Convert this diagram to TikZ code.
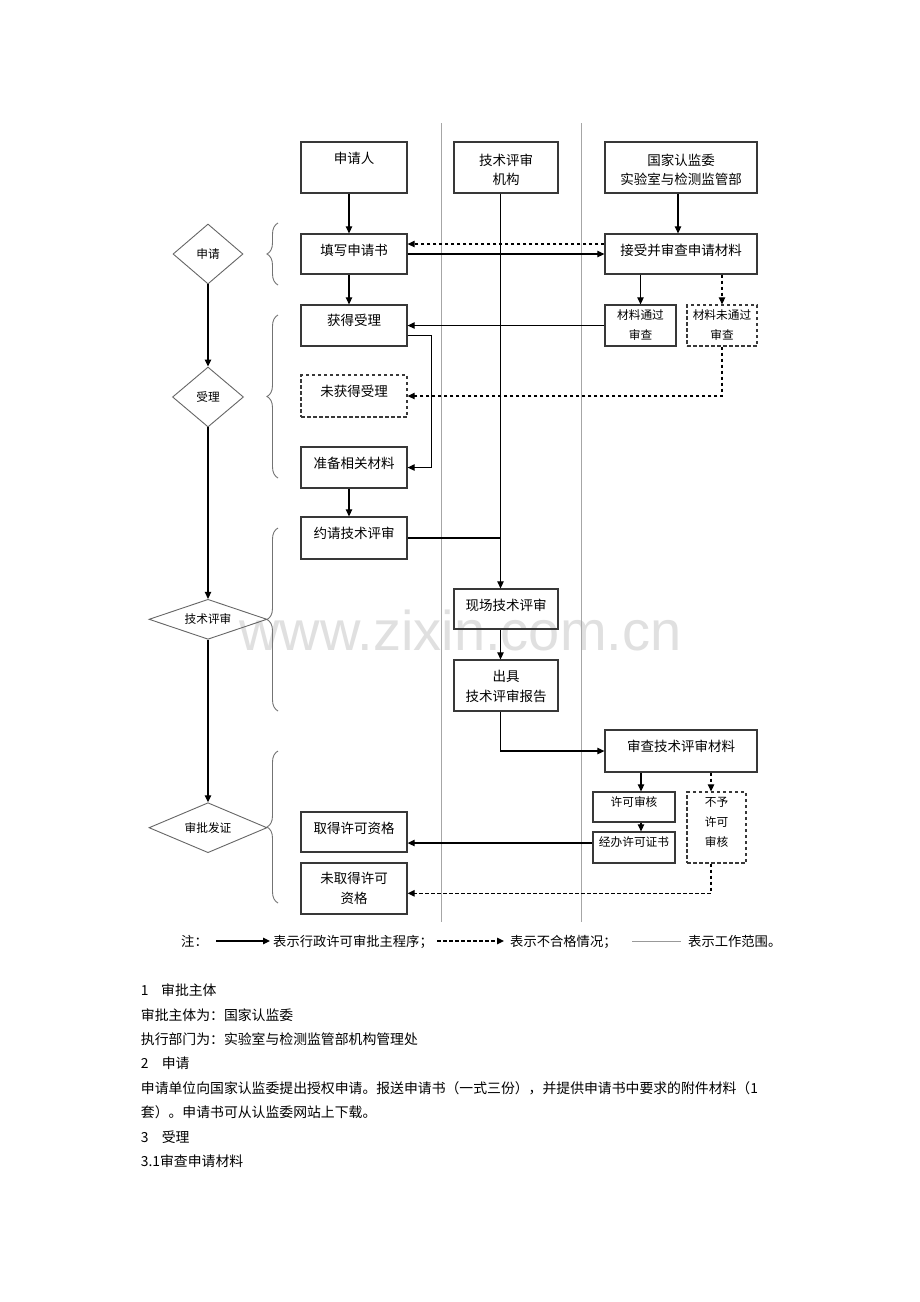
\documentclass[tikz,border=0pt]{standalone}
\usepackage{fontspec}
\setmainfont{Noto Sans CJK SC}
\newfontfamily\wmfont{Liberation Sans}
\usetikzlibrary{arrows.meta,decorations.pathreplacing,shapes.geometric,calc}
\begin{document}
\begin{tikzpicture}[x=1pt,y=-1pt,
  box/.style={draw=black!78, line width=1.3pt, rectangle, inner sep=0pt},
  dbox/.style={box, dash pattern=on 3.5pt off 2.5pt},
  arr/.style={draw=black, line width=1.2pt, -{Triangle[length=7pt,width=6.5pt]}},
  darr/.style={arr, dash pattern=on 3.5pt off 2.5pt},
  plain/.style={draw=black, line width=1.2pt},
  lane/.style={draw=black!35, line width=1.4pt},
  dia/.style={draw=black!60, line width=0.9pt, diamond, inner sep=0pt, font=\fontsize{11.7}{14}\selectfont},
  brc/.style={draw=black!55, line width=0.9pt, decorate, decoration={brace, amplitude=11pt}},
  bl/.style={font=\fontsize{13.5}{16}\selectfont, anchor=base, inner sep=0pt},
  sl/.style={font=\fontsize{11.7}{14}\selectfont, anchor=base, inner sep=0pt},
  tx/.style={font=\fontsize{13.85}{16}\selectfont, anchor=base west, inner sep=0pt},
  lg/.style={font=\fontsize{13.3}{16}\selectfont, anchor=base west, inner sep=0pt}
]
\useasboundingbox (0,0) rectangle (920,1302);
\fill[white] (0,0) rectangle (920,1302);

% watermark
\node[font=\wmfont\fontsize{56}{56}\selectfont, text=black!12, anchor=base, inner sep=0pt] (wm) at (460.5,650) {www.zixin.com.cn};

% lanes
\coordinate (l1t) at (441.7,123); \coordinate (l1b) at (441.7,922);
\coordinate (l2t) at (581.7,123); \coordinate (l2b) at (581.7,922);
\draw[lane] (l1t) -- (l1b);
\draw[lane] (l2t) -- (l2b);

% boxes
\node[box, minimum width=106pt, minimum height=51pt] (A) at (354,167.5) {};
\node[box, minimum width=104pt, minimum height=51pt] (B) at (506,167.5) {};
\node[box, minimum width=152pt, minimum height=51pt] (C) at (681,167.5) {};
\node[box, minimum width=106pt, minimum height=40pt] (D) at (354,254) {};
\node[box, minimum width=152pt, minimum height=40pt] (E) at (681,254) {};
\node[box, minimum width=106pt, minimum height=41pt] (F) at (354,325.5) {};
\node[box, minimum width=71pt, minimum height=41pt] (G) at (640.5,325.5) {};
\node[dbox, minimum width=70pt, minimum height=41pt] (H) at (722,325.5) {};
\node[dbox, minimum width=106pt, minimum height=42pt] (I) at (354,396) {};
\node[box, minimum width=106pt, minimum height=41pt] (J) at (354,467.5) {};
\node[box, minimum width=106pt, minimum height=42pt] (K) at (354,538) {};
\node[box, minimum width=104pt, minimum height=40pt] (L) at (506,609) {};
\node[box, minimum width=104pt, minimum height=51pt] (M) at (506,685.5) {};
\node[box, minimum width=152pt, minimum height=42pt] (N) at (681,751) {};
\node[box, minimum width=82pt, minimum height=30pt] (O) at (634,807) {};
\node[box, minimum width=82pt, minimum height=31pt] (P) at (634,847.5) {};
\node[dbox, minimum width=59pt, minimum height=71pt] (Q) at (716.5,827.5) {};
\node[box, minimum width=106pt, minimum height=40pt] (R) at (354,832) {};
\node[box, minimum width=106pt, minimum height=51pt] (S) at (354,888.5) {};

% box labels
\node[bl] (tA) at (354,163.1) {申请人};
\node[bl] (tB1) at (506,165.1) {技术评审};
\node[bl] (tB2) at (506,184.1) {机构};
\node[bl] (tC1) at (681,165.1) {国家认监委};
\node[bl] (tC2) at (681,184.1) {实验室与检测监管部};
\node[bl] (tD) at (354,255.1) {填写申请书};
\node[bl] (tE) at (681,255.1) {接受并审查申请材料};
\node[bl] (tF) at (354,325.1) {获得受理};
\node[sl] (tG1) at (640.5,319.4) {材料通过};
\node[sl] (tG2) at (640.5,339.4) {审查};
\node[sl] (tH1) at (722,319.4) {材料未通过};
\node[sl] (tH2) at (722,339.4) {审查};
\node[bl] (tI) at (354,396.1) {未获得受理};
\node[bl] (tJ) at (354,468.1) {准备相关材料};
\node[bl] (tK) at (354,538.1) {约请技术评审};
\node[bl] (tL) at (506,610.1) {现场技术评审};
\node[bl] (tM1) at (506,681.1) {出具};
\node[bl] (tM2) at (506,701.1) {技术评审报告};
\node[bl] (tN) at (681,751.1) {审查技术评审材料};
\node[sl] (tO) at (634,806.4) {许可审核};
\node[sl] (tP) at (634,846.4) {经办许可证书};
\node[sl] (tQ1) at (716.5,806.4) {不予};
\node[sl] (tQ2) at (716.5,826.4) {许可};
\node[sl] (tQ3) at (716.5,846.4) {审核};
\node[bl] (tR) at (354,833.1) {取得许可资格};
\node[bl] (tS1) at (354,883.1) {未取得许可};
\node[bl] (tS2) at (354,903.1) {资格};

% diamonds
\node[dia, aspect=1, minimum width=70pt, minimum height=60pt] (D1) at (208,254) {申请};
\node[dia, aspect=1, minimum width=71pt, minimum height=60pt] (D2) at (208,397) {受理};
\node[dia, aspect=2.5, minimum width=118pt, minimum height=40pt] (D3) at (208,619.3) {技术评审};
\node[dia, aspect=2.5, minimum width=118pt, minimum height=50pt] (D4) at (208,827.7) {审批发证};
\draw[arr] (D1.south) -- (D2.north);
\draw[arr] (D2.south) -- (D3.north);
\draw[arr] (D3.south) -- (D4.north);

% braces
\coordinate (b1b) at (278,285); \coordinate (b1t) at (278,223);
\coordinate (b2b) at (278,478); \coordinate (b2t) at (278,315);
\coordinate (b3b) at (278,711); \coordinate (b3t) at (278,528);
\coordinate (b4b) at (278,903); \coordinate (b4t) at (278,751);
\draw[brc] (b1b) -- (b1t);
\draw[brc] (b2b) -- (b2t);
\draw[brc] (b3b) -- (b3t);
\draw[brc] (b4b) -- (b4t);

% connectors
\coordinate (bx) at ([xshift=-5.5pt]B.south);
\draw[arr] ([xshift=-5pt]A.south) -- ([xshift=-5pt]D.north);
\draw[arr] ([xshift=-3pt]C.south) -- ([xshift=-3pt]E.north);
\draw[arr] (D.east) -- (E.west);
\draw[darr] ([yshift=10pt]E.west) -- ([yshift=10pt]D.east);
\draw[arr] ([xshift=-5pt]D.south) -- ([xshift=-5pt]F.north);
\draw[arr] (G.north |- E.south) -- (G.north);
\draw[darr] (H.north |- E.south) -- (H.north);
\draw[arr] (G.west) -- (F.east);
\draw[darr] (H.south) |- (I.east);
\draw[arr] ([yshift=-10pt]F.east) -- ++(24,0) |- (J.east);
\draw[arr] ([xshift=-5pt]J.south) -- ([xshift=-5pt]K.north);
\draw[plain] (K.east) -- (K.east -| bx);
\draw[arr] (bx) -- (bx |- L.north);
\draw[arr] ([xshift=-5.5pt]L.south) -- ([xshift=-5.5pt]M.north);
\draw[arr] ([xshift=-5.5pt]M.south) |- (N.west);
\draw[arr] ([xshift=7pt]O.north |- N.south) -- ([xshift=7pt]O.north);
\draw[arr] ([xshift=7pt]O.south) -- ([xshift=7pt]P.north);
\draw[darr] ([xshift=-5.5pt]Q.north |- N.south) -- ([xshift=-5.5pt]Q.north);
\draw[arr] ([yshift=4.5pt]P.west) -- ([yshift=4.5pt]P.west -| R.east);
\draw[darr] ([xshift=-5.5pt]Q.south) |- ([yshift=-4.8pt]S.east);

% legend
\node[lg] (n0) at (181,946) {注：};
\coordinate (la1) at (216,941); \coordinate (la2) at (270,941);
\draw[arr] (la1) -- (la2);
\node[lg] (n1) at (273,946) {表示行政许可审批主程序；};
\coordinate (lb1) at (437,941); \coordinate (lb2) at (504,941);
\draw[darr] (lb1) -- (lb2);
\node[lg] (n2) at (510,946) {表示不合格情况；};
\coordinate (lc1) at (632,941); \coordinate (lc2) at (681,941);
\draw[draw=black!40, line width=0.8pt] (lc1) -- (lc2);
\node[lg] (n3) at (688,946) {表示工作范围。};

% body text
\node[tx] (p1) at (140.7,995.6) {\makebox[20.3pt][l]{1}审批主体};
\node[tx] (p2) at (140.7,1020.0) {审批主体为：国家认监委};
\node[tx] (p3) at (140.7,1044.4) {执行部门为：实验室与检测监管部机构管理处};
\node[tx] (p4) at (140.7,1068.8) {\makebox[21pt][l]{2}申请};
\node[tx] (p5) at (140.7,1093.2) {申请单位向国家认监委提出授权申请。报送申请书（一式三份），并提供申请书中要求的附件材料（1};
\node[tx] (p6) at (140.7,1117.6) {套）。申请书可从认监委网站上下载。};
\node[tx] (p7) at (140.7,1142.0) {\makebox[21pt][l]{3}受理};
\node[tx] (p8) at (140.7,1166.4) {3.1审查申请材料};
\end{tikzpicture}
\end{document}
